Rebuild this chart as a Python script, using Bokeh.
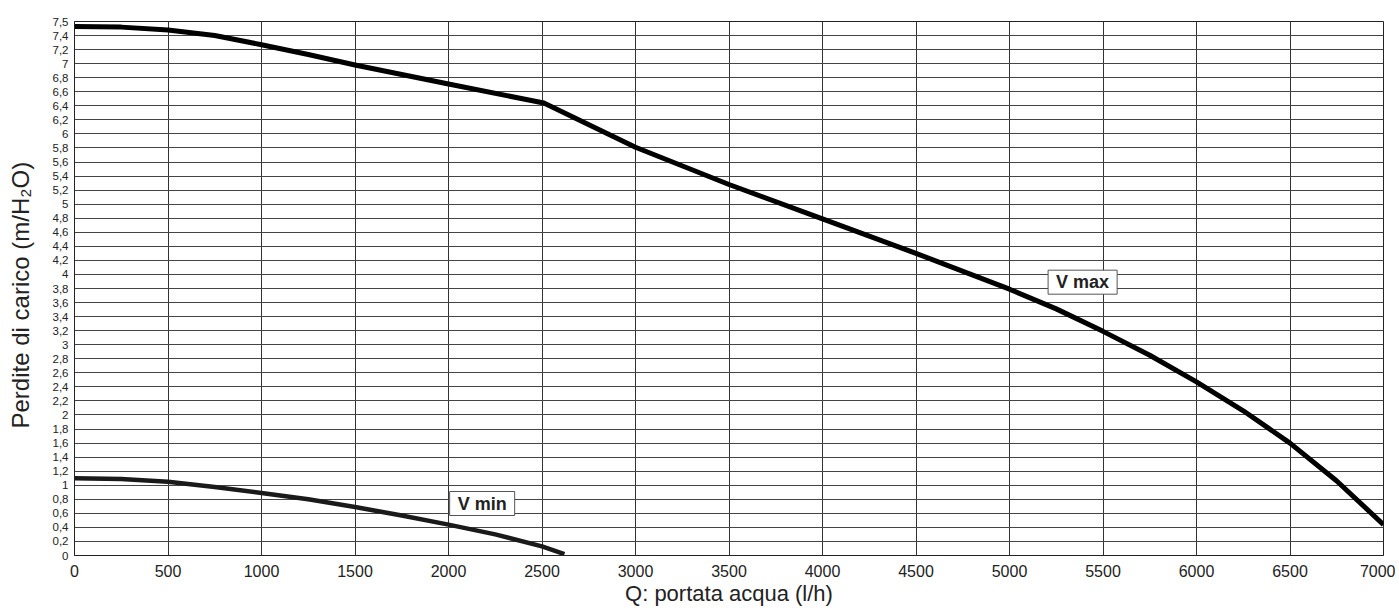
from bokeh.plotting import figure
from bokeh.models import FixedTicker, CustomJSTickFormatter, Label, Range1d
from bokeh.embed import file_html
from bokeh.resources import INLINE

# Data (y in grid units; top grid line is labelled "7,5")
q_vmax = [0, 250, 500, 750, 1000, 1250, 1500, 2000, 2510, 3000, 3500, 4000, 4500,
          5000, 5250, 5500, 5750, 6000, 6250, 6500, 6750, 7000]
h_vmax = [7.53, 7.52, 7.48, 7.40, 7.27, 7.13, 6.98, 6.71, 6.44, 5.81, 5.28, 4.79, 4.30,
          3.79, 3.51, 3.19, 2.85, 2.47, 2.06, 1.60, 1.06, 0.44]
q_vmin = [0, 250, 500, 750, 1000, 1250, 1500, 1750, 2000, 2250, 2500, 2620]
h_vmin = [1.10, 1.09, 1.05, 0.975, 0.89, 0.80, 0.69, 0.57, 0.44, 0.30, 0.13, 0.02]
y_ticks = [round(i * 0.2, 1) for i in range(38)] + [7.6]
x_ticks = list(range(0, 7001, 500))
labels = [("V max", 5391, 3.89), ("V min", 2180, 0.74)]

FONT = "Liberation Sans"

p = figure(width=1395, height=608, output_backend="svg", toolbar_location=None,
           x_range=Range1d(0, 7000), y_range=Range1d(0, 7.6),
           min_border_left=74, min_border_right=12, min_border_top=21, min_border_bottom=52)
p.background_fill_color = "white"
p.outline_line_color = "#222222"
p.outline_line_width = 1

p.xaxis.ticker = FixedTicker(ticks=x_ticks)
p.yaxis.ticker = FixedTicker(ticks=y_ticks)
p.yaxis.formatter = CustomJSTickFormatter(code="""
    if (tick > 7.55) return "7,5";
    return (Math.round(tick*10)/10).toString().replace(".", ",");
""")
for ax in (p.xaxis, p.yaxis):
    ax.major_tick_in = 0
    ax.major_tick_out = 0
    ax.minor_tick_in = 0
    ax.minor_tick_out = 0
    ax.axis_line_color = "#222222"
    ax.major_label_text_font = FONT
    ax.axis_label_text_font = FONT
    ax.axis_label_text_font_style = "normal"
    ax.major_label_text_color = "#222222"
    ax.axis_label_text_color = "#222222"

p.yaxis.major_label_text_font_size = "11.5px"
p.yaxis.major_label_standoff = 6
p.yaxis.axis_label = "Perdite di carico   (m/H₂O)"
p.yaxis.axis_label_text_font_size = "24px"
p.yaxis.axis_label_standoff = 16

p.xaxis.major_label_text_font_size = "16px"
p.xaxis.major_label_standoff = 9
p.xaxis.axis_label = "Q: portata acqua (l/h)"
p.xaxis.axis_label_text_font_size = "22px"
p.xaxis.axis_label_standoff = 1

p.xgrid.grid_line_color = "#333333"
p.ygrid.grid_line_color = "#444444"
p.xgrid.grid_line_width = 1
p.ygrid.grid_line_width = 1

p.line(q_vmax, h_vmax, line_color="black", line_width=5, line_join="round")
p.line(q_vmin, h_vmin, line_color="#1a1a1a", line_width=4.5, line_join="round")

for txt, x, y in labels:
    p.add_layout(Label(x=x, y=y, text=txt, text_align="center", text_baseline="middle",
                       text_font=FONT, text_font_size="18px", text_font_style="bold",
                       text_color="#222222",
                       background_fill_color="white", border_line_color="#555555",
                       border_line_width=1,
                       padding=dict(left=8, right=8, top=2, bottom=2)))

open("out.html", "w").write(file_html(p, INLINE))
